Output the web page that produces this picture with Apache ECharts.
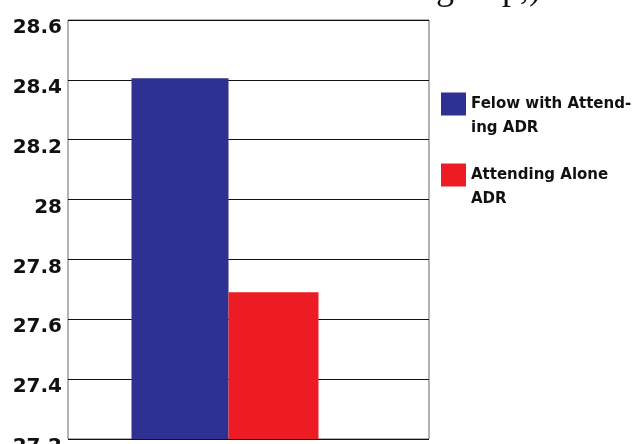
<!DOCTYPE html>
<html>
<head>
<meta charset="utf-8">
<script src="https://cdn.jsdelivr.net/npm/echarts@6/dist/echarts.min.js"></script>
<style>html,body{margin:0;padding:0;background:#fff}#c{width:634px;height:444px}</style>
</head>
<body>
<div id="c"></div>
<script>
const categories = ['ADR'];
const seriesNames = ['Felow with Attend-\ning ADR', 'Attending Alone\nADR'];
const fellowValues = [28.405];
const aloneValues = [27.69];
const yTicks = { min: 27.2, max: 28.6, interval: 0.2 };
const titleText = 'group,)';

const chart = echarts.init(document.getElementById('c'), null, { renderer: 'canvas' });
chart.setOption({
  animation: false,
  backgroundColor: '#ffffff',
  title: {
    text: titleText,
    left: 436, top: -28, padding: 0,
    textStyle: { fontFamily: 'Liberation Serif', fontSize: 36, fontWeight: 'normal', color: '#111' }
  },
  grid: { left: 68, right: 205, top: 20, bottom: 5, show: true, borderColor: '#666', borderWidth: 1, containLabel: false, outerBoundsMode: 'none' },
  legend: {
    data: seriesNames,
    orient: 'vertical',
    left: 441, top: 68, padding: 0,
    itemWidth: 25, itemHeight: 23, itemGap: -1,
    icon: 'rect',
    formatter: function (name) { return '\n' + name; },
    textStyle: { fontFamily: 'DejaVu Sans', fontWeight: 'bold', fontSize: 15, color: '#111', lineHeight: 24 }
  },
  xAxis: {
    type: 'category', data: categories,
    axisLine: { show: false }, axisTick: { show: false }, axisLabel: { show: false }, splitLine: { show: false }
  },
  yAxis: {
    type: 'value', min: yTicks.min, max: yTicks.max, interval: yTicks.interval,
    axisLine: { show: false }, axisTick: { show: false },
    splitLine: { show: true, lineStyle: { color: '#111', width: 1 } },
    axisLabel: { fontFamily: 'DejaVu Sans', fontWeight: 'bold', fontSize: 20, color: '#111', margin: 6, verticalAlign: 'top', lineHeight: 16 }
  },
  series: [
    { name: seriesNames[0], type: 'bar', data: fellowValues, barWidth: 97, barGap: '0%', itemStyle: { color: '#2E3192' } },
    { name: seriesNames[1], type: 'bar', data: aloneValues, barWidth: 90, barGap: '0%', itemStyle: { color: '#ED1C24' } },
    { name: 'spacer', type: 'bar', data: ['-'], barWidth: 47, barGap: '0%', itemStyle: { color: 'rgba(0,0,0,0)' }, silent: true }
  ]
});
</script>
</body>
</html>
